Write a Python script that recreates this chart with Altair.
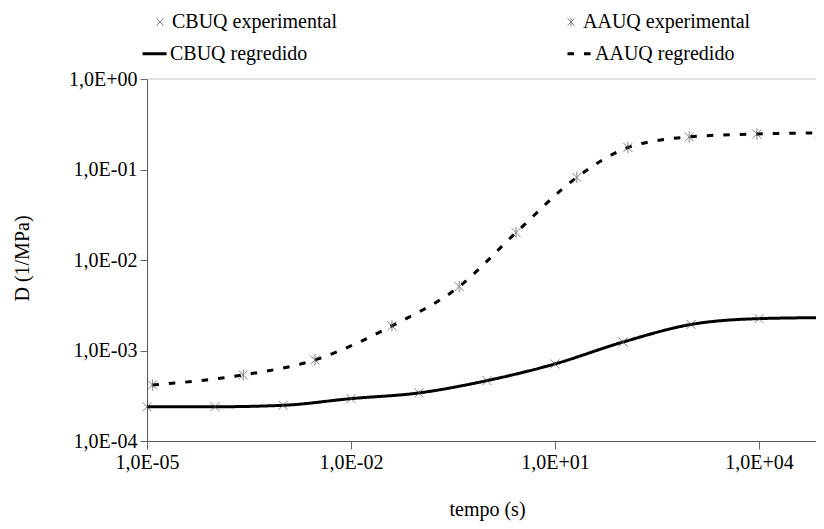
import altair as alt
import pandas as pd

# ---- data ----
t_cbuq = [1e-5, 1e-4, 1e-3, 1e-2, 1e-1, 1.0, 10.0, 100.0, 1e3, 1e4, 1e5]
d_cbuq = [2.39e-4, 2.39e-4, 2.48e-4, 2.94e-4, 3.40e-4, 4.65e-4, 7.11e-4, 1.24e-3, 1.94e-3, 2.25e-3, 2.31e-3]

t_aauq = [1.2e-5, 2.6e-4, 2.95e-3, 4.0e-2, 0.39, 2.67, 20.9, 118.0, 940.0, 9.3e3, 7.9e4]
d_aauq = [4.16e-4, 5.37e-4, 7.87e-4, 1.87e-3, 5.09e-3, 2.01e-2, 8.18e-2, 0.175, 0.229, 0.247, 0.254]

x_ticks = [1e-5, 1e-2, 1e1, 1e4]
y_ticks = [1e-4, 1e-3, 1e-2, 1e-1, 1.0]
top_line = [1.0]

exp_labels = ["CBUQ experimental", "AAUQ experimental"]
reg_labels = ["CBUQ regredido", "AAUQ regredido"]

exp_df = pd.DataFrame({
    "t": t_cbuq + t_aauq,
    "D": d_cbuq + d_aauq,
    "serie": [exp_labels[0]] * len(t_cbuq) + [exp_labels[1]] * len(t_aauq),
})
reg_df = pd.DataFrame({
    "t": t_cbuq + t_aauq,
    "D": d_cbuq + d_aauq,
    "serie": [reg_labels[0]] * len(t_cbuq) + [reg_labels[1]] * len(t_aauq),
})
top_df = pd.DataFrame({"D": top_line})

FONT = "Liberation Serif, Times New Roman, Times, serif"
FS = 20
X_PATH = "M-1,-1L1,1M-1,1L1,-1"
AST_PATH = "M-1,-1L1,1M-1,1L1,-1M0,-1.25L0,1.25"

EXP = "round(log(datum.value)/LN10)"
lab = ("'1,0E' + (" + EXP + " < 0 ? '-' : '+') + (abs(" + EXP + ") < 10 ? '0' : '') + abs(" + EXP + ")")

x_enc = alt.X(
    "t:Q",
    scale=alt.Scale(type="log", domain=[1e-5, 68850], nice=False),
    axis=alt.Axis(
        values=x_ticks, labelExpr=lab, title="tempo (s)", grid=False,
        tickSize=8, labelPadding=3, labelFlush=False, labelOverlap=False,
        labelFont=FONT, labelFontSize=FS, titleFont=FONT, titleFontSize=FS,
        titleX=340, titleY=68, titleBaseline="middle",
    ),
)
y_enc = alt.Y(
    "D:Q",
    scale=alt.Scale(type="log", domain=[1e-4, 1.0], nice=False),
    axis=alt.Axis(
        values=y_ticks, labelExpr=lab, title="D (1/MPa)", grid=False,
        tickSize=7, labelPadding=3, labelFlush=False, labelOverlap=False,
        labelFont=FONT, labelFontSize=FS, titleFont=FONT, titleFontSize=FS,
        titleX=-125, titleY=179, titleBaseline="middle",
    ),
)

rule = alt.Chart(top_df).mark_rule(color="#c0c0c0", strokeWidth=1).encode(y=y_enc)

lines = alt.Chart(reg_df).mark_line(color="black", strokeWidth=3, interpolate="monotone").encode(
    x=x_enc,
    y=y_enc,
    strokeDash=alt.StrokeDash(
        "serie:N",
        scale=alt.Scale(domain=reg_labels, range=[[1, 0], [6.5, 10]]),
        legend=alt.Legend(
            title=None, orient="none", legendX=-6, legendY=-39,
            direction="horizontal", columns=2, columnPadding=253, padding=0,
            symbolType="stroke", symbolSize=576, symbolStrokeWidth=3,
            symbolStrokeColor="black",
            labelOffset=2, labelFont=FONT, labelFontSize=FS, labelColor="black",
            labelLimit=400,
        ),
    ),
)

points = alt.Chart(exp_df).mark_point(filled=False, strokeWidth=1, color="#4d4d4d", size=81).encode(
    x=x_enc,
    y=y_enc,
    shape=alt.Shape(
        "serie:N",
        scale=alt.Scale(domain=exp_labels, range=[X_PATH, AST_PATH]),
        legend=alt.Legend(
            title=None, orient="none", legendX=3, legendY=-67,
            direction="horizontal", columns=2, columnPadding=224, padding=0,
            symbolSize=49, symbolStrokeWidth=1, symbolStrokeColor="#4d4d4d",
            symbolFillColor="transparent",
            labelOffset=2, labelFont=FONT, labelFontSize=FS, labelColor="black",
            labelLimit=400,
        ),
    ),
)

chart = alt.layer(rule, lines, points).properties(
    width=669,
    height=362,
    autosize=alt.AutoSizeParams(type="none"),
    padding={"left": 139, "top": 71, "right": 0, "bottom": 80},
).configure_view(stroke=None).configure_axis(
    domainColor="#555555", tickColor="#666666", domainWidth=1, tickWidth=1,
    labelFont=FONT, labelFontSize=FS, labelColor="black",
    titleFont=FONT, titleFontSize=FS, titleFontWeight="normal", titleColor="black",
).configure_legend(
    labelFont=FONT, labelFontSize=FS
)

chart.save("out.html", embed_options={"renderer": "svg", "actions": False})
